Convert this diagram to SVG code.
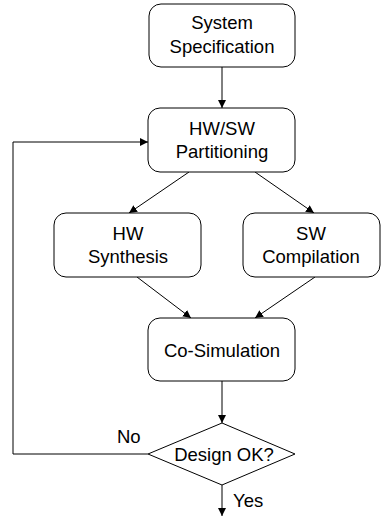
<svg xmlns="http://www.w3.org/2000/svg" width="381" height="517" viewBox="0 0 381 517">
<defs>
<marker id="ah" viewBox="0 0 10 10" refX="10" refY="5" markerWidth="8" markerHeight="8" markerUnits="userSpaceOnUse" orient="auto">
<path d="M0,0 L10,5 L0,10 Z" fill="#000"/>
</marker>
<style>
.box{fill:#fff;stroke:#000;stroke-width:1}
.t{font-family:"Liberation Sans",Arial,sans-serif;font-size:18.5px;fill:#000;text-anchor:middle}
.l{font-family:"Liberation Sans",Arial,sans-serif;font-size:18.5px;fill:#000}
.c{fill:none;stroke:#000;stroke-width:1;marker-end:url(#ah)}
</style>
</defs>
<rect width="381" height="517" fill="#fff"/>
<g id="connectors">
<line class="c" x1="222" y1="67" x2="222" y2="108"/>
<line class="c" x1="189" y1="172" x2="129" y2="213"/>
<line class="c" x1="255" y1="172" x2="314" y2="213"/>
<line class="c" x1="137" y1="277" x2="191" y2="318"/>
<line class="c" x1="315" y1="277" x2="255" y2="318"/>
<line class="c" x1="222" y1="381" x2="222" y2="423"/>
<polyline class="c" points="148,454 13,454 13,142 148,142"/>
<line class="c" x1="222" y1="485" x2="222" y2="516"/>
<text class="l" x="117" y="443">No</text>
<text class="l" x="233" y="507">Yes</text>
</g>
<g id="system-spec">
<rect class="box" x="149" y="4" width="146" height="63" rx="12"/>
<text class="t" x="222" y="29">System</text>
<text class="t" x="222" y="53">Specification</text>
</g>
<g id="partitioning">
<rect class="box" x="148" y="108" width="147" height="64" rx="12"/>
<text class="t" x="222" y="135">HW/SW</text>
<text class="t" x="222" y="158">Partitioning</text>
</g>
<g id="hw-synthesis">
<rect class="box" x="54" y="213" width="147" height="64" rx="12"/>
<text class="t" x="128" y="240">HW</text>
<text class="t" x="128" y="263">Synthesis</text>
</g>
<g id="sw-compilation">
<rect class="box" x="243" y="213" width="137" height="64" rx="12"/>
<text class="t" x="311" y="240">SW</text>
<text class="t" x="311" y="263">Compilation</text>
</g>
<g id="co-simulation">
<rect class="box" x="148" y="318" width="147" height="63" rx="12"/>
<text class="t" x="222" y="357">Co-Simulation</text>
</g>
<g id="design-ok">
<polygon class="box" points="222,423 295,454 222,485 148,454"/>
<text class="t" x="224" y="461">Design OK?</text>
</g>
</svg>
